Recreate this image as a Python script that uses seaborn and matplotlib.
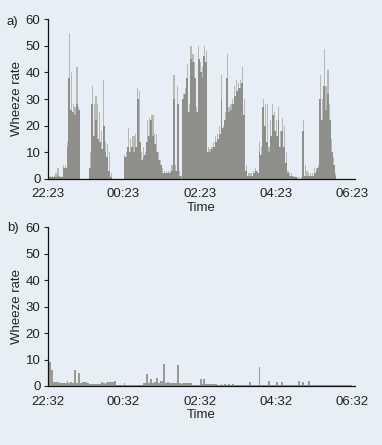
import numpy as np
import pandas as pd
import matplotlib
matplotlib.use("Agg")
import matplotlib.pyplot as plt
import seaborn as sns

# ---- data (3-minute bins over 8 hours) ----
bin_minutes = 3
ticks_a = ["22:23", "00:23", "02:23", "04:23", "06:23"]
ticks_b = ["22:32", "00:32", "02:32", "04:32", "06:32"]
yticks = [0, 10, 20, 30, 40, 50, 60]

# panel a: peak (light spikes) and bulk level (darker fill)
peak_a = [3, 1, 1, 1, 2, 4, 1, 1, 5, 5,
          14, 55, 40, 28, 27, 42, 27, 0, 0, 0,
          0, 0, 10, 35, 28, 31, 28, 25, 18, 37,
          14, 13, 10, 2, 0, 0, 0, 0, 0, 0,
          9, 10, 19, 15, 16, 16, 17, 34, 33, 10,
          12, 10, 22, 23, 24, 24, 17, 17, 10, 7,
          4, 3, 3, 3, 3, 5, 39, 5, 35, 3,
          1, 32, 34, 43, 28, 50, 47, 44, 27, 50,
          44, 42, 50, 48, 12, 11, 12, 14, 16, 17,
          20, 39, 20, 25, 47, 27, 28, 30, 35, 37,
          36, 37, 42, 30, 5, 2, 2, 2, 3, 4,
          3, 14, 12, 30, 28, 28, 12, 22, 28, 25,
          22, 27, 18, 23, 20, 10, 3, 2, 2, 1,
          1, 0.5, 0.5, 0.5, 22, 5, 3, 2, 2, 2,
          4, 4, 5, 39, 30, 49, 35, 41, 28, 15,
          8, 2, 0, 0, 0, 0, 0, 0, 0, 0]
level_a = [1, 0.5, 0.5, 0.5, 0.5, 1, 0.5, 0.5, 4, 4,
           12, 38, 26, 25, 24, 28, 26, 0, 0, 0,
           0, 0, 4, 28, 16, 22, 15, 14, 11, 20,
           10, 8, 3, 0.5, 0, 0, 0, 0, 0, 0,
           8, 8, 12, 10, 12, 10, 12, 30, 14, 7,
           8, 9, 14, 16, 22, 16, 13, 10, 7, 5,
           2, 2, 2, 2, 2, 3, 30, 3, 28, 1,
           0, 30, 32, 38, 25, 45, 44, 38, 25, 45,
           40, 38, 46, 44, 10, 10, 11, 12, 14, 15,
           17, 30, 19, 22, 38, 25, 26, 28, 31, 33,
           34, 34, 36, 24, 3, 1, 1, 1, 2, 3,
           2, 10, 9, 27, 20, 14, 10, 16, 24, 18,
           16, 22, 12, 18, 12, 6, 2, 1, 1, 0.5,
           0.5, 0, 0, 0, 18, 1, 1, 1, 1, 1,
           2, 3, 4, 30, 22, 35, 26, 32, 22, 10,
           5, 1, 0, 0, 0, 0, 0, 0, 0, 0]

# panel b
peak_b = [11, 9, 6, 1.5, 1.5, 1.5, 1, 1, 1, 1,
          2, 1, 1.5, 1, 6, 1, 5, 1, 1.5, 1.5,
          1.5, 1, 0.7, 0.7, 0.7, 0.7, 0.7, 0.7, 1.5, 1,
          0.7, 1.5, 1.5, 1.5, 1.5, 2, 0.5, 0.5, 0.5, 0.5,
          1, 0.5, 0.5, 0.5, 0.5, 0.5, 0.5, 0.5, 0.5, 0.5,
          1, 1, 4.5, 1, 2.5, 1, 1.5, 3, 1, 2,
          2, 8.5, 1, 1.5, 1, 1, 1, 1, 8, 1,
          0.7, 1, 1, 1, 1, 1, 0.5, 0.5, 0.5, 0.5,
          2.5, 0.7, 2.5, 0.7, 0.7, 0.7, 0.7, 0.7, 0.7, 0.5,
          0.5, 0.7, 0.5, 0.7, 0.5, 0.7, 0.5, 0.7, 0.5, 0.5,
          0.5, 0.5, 0.5, 0.5, 0.5, 0.5, 1.5, 0.5, 0.5, 0.5,
          0.5, 7, 0.5, 0.5, 0.5, 0.5, 2, 0.5, 0.5, 0.5,
          1.5, 0.5, 0.5, 1.5, 0.5, 0.5, 0.5, 0.5, 0.5, 0.5,
          0.5, 0.5, 2, 0.5, 1.5, 0.5, 0.5, 2, 0.3, 0.3,
          0.3, 0.3, 0.3, 0.3, 0.3, 0.3, 0.3, 0.3, 0.3, 0.3,
          0.3, 0.3, 0.3, 0.3, 0.3, 0.3, 0.3, 0.3, 0.3, 0.3]

n = len(peak_a)
minutes = np.arange(n) * bin_minutes + bin_minutes / 2
df = pd.DataFrame({"t": minutes, "peak_a": peak_a, "level_a": level_a, "peak_b": peak_b})

# ---- style ----
bg = "#e8eef5"
light = "#b9b9b4"
dark = "#8e8e8a"
txt = "#222222"
sns.set_style("ticks")
plt.rcParams["font.family"] = ["Liberation Sans Narrow", "Liberation Sans", "DejaVu Sans"]
plt.rcParams["font.size"] = 9.5

fig = plt.figure(figsize=(3.82, 4.45), dpi=100, facecolor=bg)
W, H = 382, 445
x0, x1 = 47.5, 355
xmax = 480 * (x1 - x0) / (351.7 - x0)

def make_ax(ytop, ybot):
    ax = fig.add_axes([x0 / W, (H - ybot) / H, (x1 - x0) / W, (ybot - ytop) / H])
    ax.set_facecolor(bg)
    return ax

ax_a = make_ax(19.3, 178.7)
ax_b = make_ax(227.3, 386.0)

hist_kw = dict(x="t", binwidth=bin_minutes, binrange=(0, n * bin_minutes),
               alpha=1, linewidth=0)
sns.histplot(data=df, weights="peak_a", color=light, shrink=0.6, ax=ax_a, **hist_kw)
sns.histplot(data=df, weights="level_a", color=dark, ax=ax_a, **hist_kw)
sns.histplot(data=df, weights="peak_b", color="#9a9a96", ax=ax_b, **hist_kw)

for ax, labs, tag, ty in [(ax_a, ticks_a, "a)", 22), (ax_b, ticks_b, "b)", 228)]:
    ax.set_xlim(0, xmax)
    ax.set_ylim(0, 60)
    ax.set_xticks([0, 120, 240, 360, 480])
    ax.set_xticklabels(labs)
    ax.set_yticks(yticks)
    ax.tick_params(axis="x", length=0, pad=7, labelsize=9.5, colors=txt)
    ax.tick_params(axis="y", length=3, width=0.8, pad=2, labelsize=9.5, colors=txt)
    for s in ["top", "right"]:
        ax.spines[s].set_visible(False)
    for s in ["left", "bottom"]:
        ax.spines[s].set_color("#111111")
        ax.spines[s].set_linewidth(0.9)
    ax.set_xlabel("Time", fontsize=9.5, labelpad=1, color=txt)
    ax.set_ylabel("Wheeze rate", fontsize=9.5, labelpad=2, color=txt)
    fig.text(7 / W, 1 - ty / H, tag, ha="left", va="center", fontsize=9.5, color=txt)

fig.savefig("out.png", dpi=100, facecolor=bg)
